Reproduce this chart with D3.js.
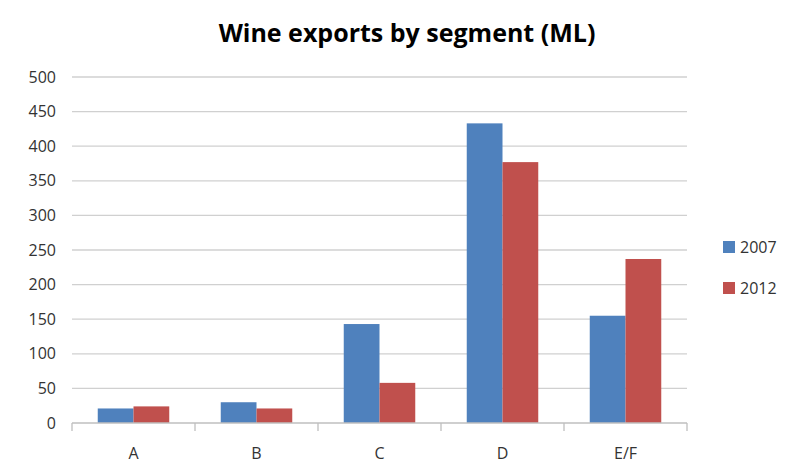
<!DOCTYPE html>
<html>
<head>
<meta charset="utf-8">
<script src="https://cdn.jsdelivr.net/npm/d3@7"></script>
<style>
  body { margin: 0; background: #fff; }
  text { font-family: "Open Sans", "Liberation Sans", sans-serif; }
</style>
</head>
<body>
<svg id="chart" width="788" height="468"></svg>
<script>
// data
const categories = ["A", "B", "C", "D", "E/F"];
const seriesNames = ["2007", "2012"];
const values2007 = [21, 30, 143, 433, 155];
const values2012 = [24, 21, 58, 377, 237];
const yTicks = [0, 50, 100, 150, 200, 250, 300, 350, 400, 450, 500];
const colors = ["#4F81BD", "#C0504D"];

const svg = d3.select("#chart");
const margin = { top: 77, left: 72, right: 101, bottom: 45 };
const innerW = 788 - margin.left - margin.right;
const innerH = 468 - margin.top - margin.bottom;

const g = svg.append("g").attr("transform", `translate(${margin.left},${margin.top})`);

const x = d3.scaleBand().domain(categories).range([0, innerW]).paddingInner(0).paddingOuter(0);
const xs = d3.scaleBand().domain(seriesNames).range([0, x.bandwidth()]).paddingInner(0).paddingOuter(0.72);
const y = d3.scaleLinear().domain([0, 500]).range([innerH, 0]);

// gridlines
g.selectAll("line.grid")
    .data(yTicks.filter(d => d > 0))
    .join("line")
    .attr("class", "grid")
    .attr("x1", 0).attr("x2", innerW)
    .attr("y1", d => y(d)).attr("y2", d => y(d))
    .attr("stroke", "#d0d0d0")
    .attr("stroke-width", 1.3);

// y tick labels
g.selectAll("text.ylab")
    .data(yTicks)
    .join("text")
    .attr("class", "ylab")
    .attr("x", -16)
    .attr("y", d => y(d))
    .attr("dy", "0.35em")
    .attr("text-anchor", "end")
    .style("font-size", "16px")
    .attr("fill", "#333")
    .text(d => d);

// bars
const rows = categories.map((c, i) => ({ cat: c, vals: [values2007[i], values2012[i]] }));
const grp = g.selectAll("g.grp")
    .data(rows)
    .join("g")
    .attr("class", "grp")
    .attr("transform", d => `translate(${x(d.cat)},0)`);

grp.selectAll("rect")
    .data(d => d.vals.map((v, j) => ({ s: seriesNames[j], v, j })))
    .join("rect")
    .attr("x", d => xs(d.s))
    .attr("y", d => y(d.v))
    .attr("width", xs.bandwidth())
    .attr("height", d => innerH - y(d.v))
    .attr("fill", d => colors[d.j]);

// x axis
const xAxis = g.append("g").attr("transform", `translate(0,${innerH})`);
xAxis.append("line")
    .attr("x1", 0).attr("x2", innerW)
    .attr("stroke", "#bfbfbf").attr("stroke-width", 1.3);
xAxis.selectAll("line.tick")
    .data(d3.range(categories.length + 1))
    .join("line")
    .attr("class", "tick")
    .attr("x1", i => i * x.step()).attr("x2", i => i * x.step())
    .attr("y1", 0).attr("y2", 8)
    .attr("stroke", "#bfbfbf").attr("stroke-width", 1.3);
xAxis.selectAll("text")
    .data(categories)
    .join("text")
    .attr("x", d => x(d) + x.bandwidth() / 2)
    .attr("y", 36)
    .attr("text-anchor", "middle")
    .style("font-size", "16px")
    .attr("fill", "#333")
    .text(d => d);

// title
svg.append("text")
    .attr("x", 407)
    .attr("y", 42)
    .attr("text-anchor", "middle")
    .style("font-size", "25px")
    .style("font-weight", "bold")
    .attr("fill", "#000")
    .text("Wine exports by segment (ML)");

// legend
const legend = svg.append("g").attr("transform", "translate(723,241)");
const li = legend.selectAll("g")
    .data(seriesNames)
    .join("g")
    .attr("transform", (d, i) => `translate(0,${i * 41})`);
li.append("rect")
    .attr("width", 12).attr("height", 12)
    .attr("fill", (d, i) => colors[i]);
li.append("text")
    .attr("x", 17)
    .attr("y", 6)
    .attr("dy", "0.35em")
    .style("font-size", "16px")
    .attr("fill", "#333")
    .text(d => d);
</script>
</body>
</html>
